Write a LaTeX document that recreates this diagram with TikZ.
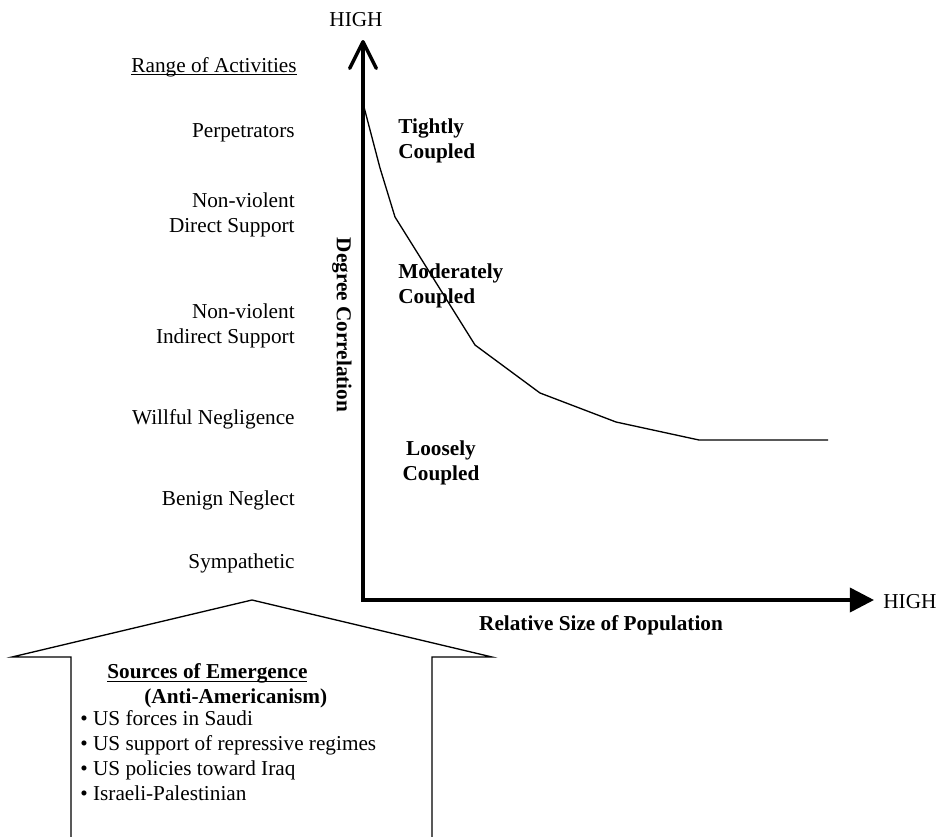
\documentclass[tikz,border=0pt]{standalone}
\usepackage{fontspec}
\setmainfont{Liberation Serif}
\usetikzlibrary{arrows.meta}

\newcommand{\ulinetext}[1]{\setbox0\hbox{#1}\rlap{\rule[-1.8pt]{\wd0}{0.6pt}}\box0}

\begin{document}
\begin{tikzpicture}[x=0.565pt, y=-0.565pt,
    every node/.style={inner sep=0pt, font=\fontsize{12}{14.1}\selectfont},
    activity/.style={anchor=base east},
    activities/.style={anchor=north east, align=right},
    region/.style={font=\fontsize{12}{14.1}\selectfont\bfseries},
    axisline/.style={line width=2pt},
    curveline/.style={line width=0.75pt, line join=round}]
    \useasboundingbox (0,0) rectangle (937,837);

    \coordinate (origin) at (363,600);
    \coordinate (ytop) at (363,40);
    \coordinate (xend) at (874,600);

    \node[anchor=base] (yHigh) at (356,27) {HIGH};
    \node[anchor=base west] (xHigh) at (883,608) {HIGH};

    \node[activity] (rangeLbl) at (297,72) {\ulinetext{Range of Activities}};
    \node[activity] (perp) at (295,137) {Perpetrators};
    \node[activities] (directSup) at (295,192.5) {Non-violent\\Direct Support};
    \node[activities] (indirectSup) at (295,303.5) {Non-violent\\Indirect Support};
    \node[activity] (willful) at (295,424) {Willful Negligence};
    \node[activity] (benign) at (295,505) {Benign Neglect};
    \node[activity] (symp) at (295,568) {Sympathetic};

    \node[region, rotate=-90] (degCorr) at (342,325) {Degree Correlation};
    \node[region, anchor=base] (relSize) at (601,630) {Relative Size of Population};

    \node[region, anchor=north west, align=left] (tight) at (398,118.5) {Tightly\\Coupled};
    \node[region, anchor=north west, align=left] (moder) at (398,263.5) {Moderately\\Coupled};
    \node[region, anchor=north, align=center] (loose) at (441,440.5) {Loosely\\Coupled};

    \draw[axisline, {Straight Barb[length=15pt,width=15pt,round]}-{Triangle[length=13.6pt,width=13.6pt]}]
        (ytop) -- (origin) -- (xend);

    \draw[curveline] (364,107) -- (380,168) -- (395,217) -- (475,345) -- (540,393)
        -- (616,422) -- (699,440) -- (828,440);

    \draw[line width=0.75pt, line join=miter]
        (71,837) -- (71,657) -- (12,657) -- (252,600) -- (492,657) -- (432,657) -- (432,837);

    \node[region, anchor=north west, align=left] (srcHead) at (107,663.5)
        {\ulinetext{Sources of Emergence}\\\hspace*{20.9pt}(Anti-Americanism)};
    \node[anchor=north west, align=left] (srcList) at (80,710.5)
        {• US forces in Saudi\\• US support of repressive regimes\\• US policies toward Iraq\\• Israeli-Palestinian};
\end{tikzpicture}
\end{document}
